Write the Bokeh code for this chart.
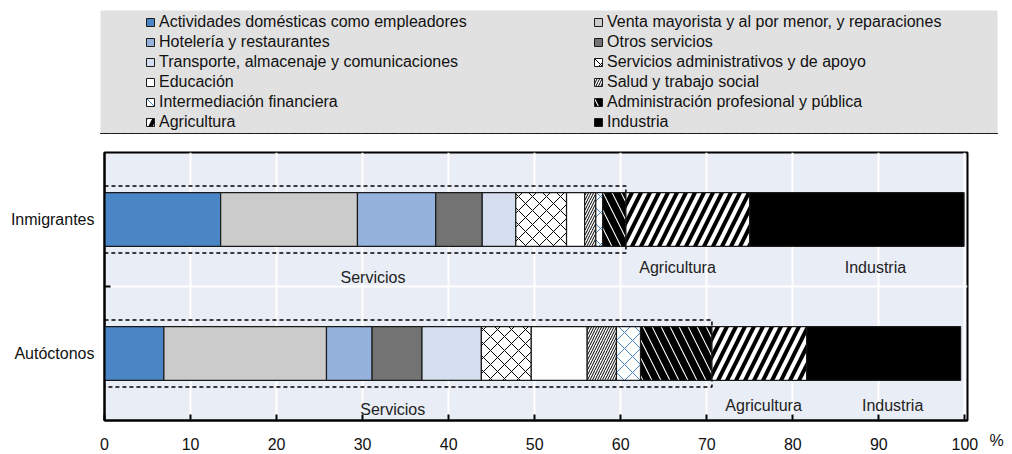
from bokeh.plotting import figure
from bokeh.models import Range1d, FixedTicker, Legend, LegendItem, LinearAxis
from bokeh.layouts import column
from bokeh.embed import file_html
from bokeh.resources import INLINE
from bokeh.core.properties import value

# ---------------- data ----------------
groups = ["Autóctonos", "Inmigrantes"]          # y positions 0 and 1
sectors = [
    "Actividades domésticas como empleadores",
    "Venta mayorista y al por menor, y reparaciones",
    "Hotelería y restaurantes",
    "Otros servicios",
    "Transporte, almacenaje y comunicaciones",
    "Servicios administrativos y de apoyo",
    "Educación",
    "Salud y trabajo social",
    "Intermediación financiera",
    "Administración profesional y pública",
    "Agricultura",
    "Industria",
]
autoctonos = [6.9, 18.9, 5.3, 5.8, 6.9, 5.8, 6.5, 3.4, 2.8, 8.3, 11.0, 17.9]
inmigrantes = [13.5, 15.9, 9.1, 5.4, 3.9, 5.9, 2.1, 1.3, 0.8, 2.7, 14.4, 24.9]
broad = ["Servicios"] * 10 + ["Agricultura", "Industria"]
broad_names = ["Servicios", "Agricultura", "Industria"]
x_ticks = [0, 10, 20, 30, 40, 50, 60, 70, 80, 90, 100]
unit_label = "%"

# label placement (annotation layout)
label_x = {"Inmigrantes": [31.2, 66.6, 89.6], "Autóctonos": [33.5, 76.6, 91.6]}
label_dy = {"Inmigrantes": [-0.43, -0.36, -0.36], "Autóctonos": [-0.42, -0.385, -0.385]}

# ---------------- styles ----------------
FONT = "Liberation Sans"
FS = "16px"
styles = [
    dict(fill_color="#4a86c5"),
    dict(fill_color="#cbcbcb"),
    dict(fill_color="#95b2dc"),
    dict(fill_color="#737373"),
    dict(fill_color="#d5deef"),
    dict(fill_color="white", hatch_pattern="x", hatch_color="black", hatch_scale=14, hatch_weight=1),
    dict(fill_color="white"),
    dict(fill_color="white", hatch_pattern="/", hatch_color="black", hatch_scale=5, hatch_weight=1),
    dict(fill_color="white", hatch_pattern="x", hatch_color="#4a86c5", hatch_scale=16, hatch_weight=1),
    dict(fill_color="white", hatch_pattern="\\", hatch_color="black", hatch_scale=18, hatch_weight=7),
    dict(fill_color="black", hatch_pattern="/", hatch_color="white", hatch_scale=18, hatch_weight=4),
    dict(fill_color="black"),
]

values = {"Autóctonos": autoctonos, "Inmigrantes": inmigrantes}
ypos = {g: i for i, g in enumerate(groups)}

W = 1008
H_LEG = 140
H_MAIN = 314

# ---------------- main plot ----------------
p = figure(width=W, height=H_MAIN, x_range=Range1d(0, 100.3), y_range=Range1d(-0.5, 1.5),
           output_backend="svg", toolbar_location=None,
           min_border_left=104, min_border_right=41, min_border_top=12, min_border_bottom=34,
           background_fill_color="#e9edf6", border_fill_color="white",
           outline_line_color="black", outline_line_width=2)
p.frame_align = False

# dashed boxes around the services block
for g in groups:
    serv_total = sum(v for v, b in zip(values[g], broad) if b == "Servicios")
    y = ypos[g]
    p.quad(left=[0], right=[serv_total], bottom=[y - 0.25], top=[y + 0.25],
           fill_alpha=0, line_color="black", line_width=1.5, line_dash="4 3")

# stacked bars
for i, s in enumerate(sectors):
    lefts, rights, ys = [], [], []
    for g in groups:
        left = sum(values[g][:i])
        lefts.append(left)
        rights.append(left + values[g][i])
        ys.append(ypos[g])
    p.hbar(y=ys, left=lefts, right=rights, height=0.4,
           line_color="#1a1a1a", line_width=1.2, **styles[i])

# broad group labels
for g in groups:
    for j, name in enumerate(broad_names):
        p.text(x=[label_x[g][j]], y=[ypos[g] + label_dy[g][j]], text=[name],
               text_font=value(FONT), text_font_size=FS, text_color="#222222",
               text_align="center", text_baseline="middle")

p.xaxis.ticker = FixedTicker(ticks=x_ticks)
p.xaxis.major_tick_in = 6
p.xaxis.major_tick_out = 0
p.xaxis.major_tick_line_width = 2
p.xaxis.major_label_standoff = 17
p.yaxis.ticker = FixedTicker(ticks=[0, 1], minor_ticks=[0.5])
p.yaxis.major_label_overrides = {0: groups[0], 1: groups[1]}
p.yaxis.major_tick_in = 0
p.yaxis.major_tick_out = 0
p.yaxis.minor_tick_in = 6
p.yaxis.minor_tick_out = 0
p.yaxis.minor_tick_line_color = "black"
p.yaxis.minor_tick_line_width = 2
p.yaxis.major_label_standoff = 10
for ax in (p.xaxis, p.yaxis):
    ax.axis_line_color = "black"
    ax.axis_line_width = 2
    ax.major_label_text_font = FONT
    ax.major_label_text_font_size = FS
    ax.major_label_text_color = "#111111"
p.xgrid.grid_line_color = "white"
p.xgrid.grid_line_width = 2
p.ygrid.ticker = FixedTicker(ticks=[0.5])
p.ygrid.grid_line_color = "white"
p.ygrid.grid_line_width = 2

# unit label "%" at the right end of the x axis (right-side axis with one tick at the bottom)
unit_ax = LinearAxis(ticker=FixedTicker(ticks=[-0.5]), major_label_overrides={-0.5: "\n\n" + unit_label},
                     axis_line_color=None, major_tick_line_color=None, minor_tick_line_color=None,
                     major_tick_in=0, major_tick_out=0, major_label_standoff=22,
                     major_label_text_font=FONT, major_label_text_font_size=FS,
                     major_label_text_color="#111111")
p.add_layout(unit_ax, "right")

# ---------------- legend panel ----------------
lf = figure(width=W, height=H_LEG, x_range=Range1d(0, 1), y_range=Range1d(0, 1),
            output_backend="svg", toolbar_location=None,
            min_border_left=100, min_border_right=11, min_border_top=10, min_border_bottom=7,
            background_fill_color="#e1e1e1", border_fill_color="white",
            outline_line_color=None, x_axis_location=None, y_axis_location=None)
lf.frame_align = False
lf.grid.visible = False

rends = []
for i, s in enumerate(sectors):
    # off-range proxy marks, used only to give the legend its swatches
    r = lf.hbar(y=[-10], left=[0], right=[1], height=0.5, line_color="#1a1a1a", line_width=1, **styles[i])
    rends.append(r)

def make_legend(idx, x0):
    return Legend(items=[LegendItem(label=sectors[i], renderers=[rends[i]]) for i in idx],
                  location=(x0, 1.5), orientation="vertical",
                  glyph_width=10, glyph_height=10, label_standoff=4,
                  padding=0, margin=0, spacing=0, label_height=20,
                  border_line_color=None, background_fill_alpha=0,
                  label_text_font=FONT, label_text_font_size=FS, label_text_color="#111111")

lf.add_layout(make_legend(range(0, 12, 2), 45))
lf.add_layout(make_legend(range(1, 12, 2), 493))

layout = column(lf, p, spacing=0)
open("out.html", "w").write(file_html(layout, INLINE))
